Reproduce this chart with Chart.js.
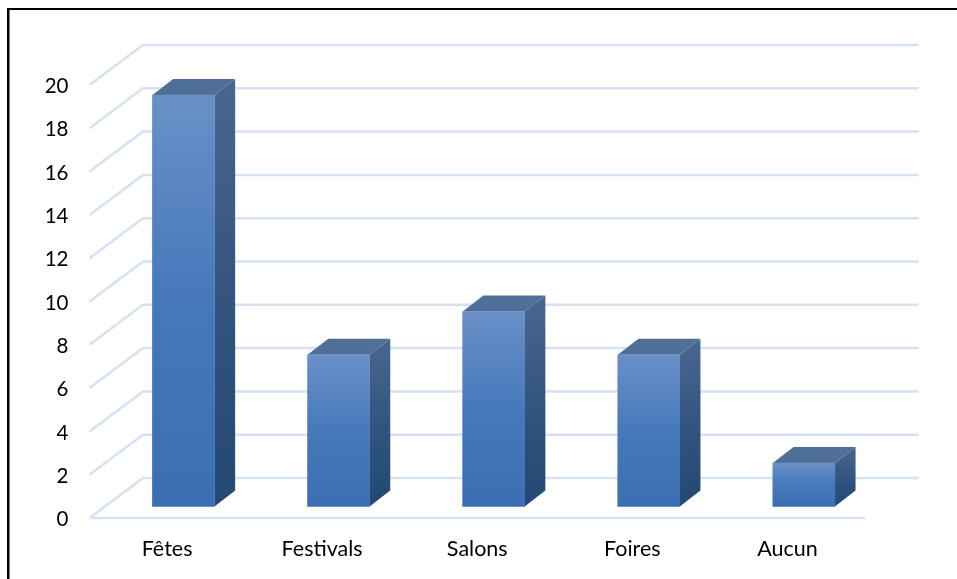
<!DOCTYPE html>
<html><head><meta charset="utf-8">
<style>html,body{margin:0;padding:0;background:#fff;overflow:hidden}canvas{display:block}</style>
<script src="https://cdn.jsdelivr.net/npm/chart.js@4"></script>
</head><body><canvas id="c" width="957" height="579"></canvas>
<script>
const categories = ["Fêtes", "Festivals", "Salons", "Foires", "Aucun"];
const values = [19, 7, 9, 7, 2];
const yTicks = [0, 2, 4, 6, 8, 10, 12, 14, 16, 18, 20];

const WALL_DX = 53.5, WALL_DY = 40;      // back wall offset of the 3D box
const BAR_DX = 16.4, BAR_DY = 11.6;      // bars stand inside the floor
const DEPTH_DX = 20.7, DEPTH_DY = 16;    // bar depth

function vGrad(ctx, top, base, stops) {
  const g = ctx.createLinearGradient(0, top, 0, base);
  stops.forEach(s => g.addColorStop(s[0], s[1]));
  return g;
}

const frame = {
  id: 'frame',
  beforeDraw(chart) {
    const c = chart.ctx;
    c.save();
    c.fillStyle = '#fff'; c.fillRect(0, 0, chart.width, chart.height);
    c.fillStyle = '#000';
    c.fillRect(7, 8, chart.width - 7, 2);
    c.fillRect(7, 8, 2.5, chart.height - 8);
    c.restore();
  }
};

const wall = {
  id: 'wall',
  beforeDatasetsDraw(chart) {
    const c = chart.ctx, s = chart.scales.y, a = chart.chartArea;
    c.save();
    c.strokeStyle = '#d5e2f3';
    c.lineWidth = 2.5;
    c.lineJoin = 'miter';
    s.ticks.forEach(t => {
      const y = s.getPixelForValue(t.value);
      c.beginPath();
      c.moveTo(a.left, y);
      c.lineTo(a.left + WALL_DX, y - WALL_DY);
      c.lineTo(a.right + WALL_DX, y - WALL_DY);
      c.stroke();
      if (t.value === 0) {
        c.beginPath();
        c.moveTo(a.left, y);
        c.lineTo(a.right, y);
        c.stroke();
      }
    });
    c.restore();
  }
};

const extrude = {
  id: 'extrude',
  beforeDatasetDraw(chart, args) {
    const c = chart.ctx;
    c.save();
    c.translate(BAR_DX, -BAR_DY);
    args.meta.data.forEach(b => {
      const p = b.getProps(['x', 'y', 'base', 'width'], true);
      const l = p.x - p.width / 2, r = p.x + p.width / 2;
      c.fillStyle = vGrad(c, p.y - DEPTH_DY, p.base, [[0, '#4a6690'], [0.5, '#33557f'], [1, '#234872']]);
      c.beginPath();
      c.moveTo(r, p.y);
      c.lineTo(r + DEPTH_DX, p.y - DEPTH_DY);
      c.lineTo(r + DEPTH_DX, p.base - DEPTH_DY);
      c.lineTo(r, p.base);
      c.closePath();
      c.fill();
      c.fillStyle = '#506f98';
      c.beginPath();
      c.moveTo(l, p.y);
      c.lineTo(l + DEPTH_DX, p.y - DEPTH_DY);
      c.lineTo(r + DEPTH_DX, p.y - DEPTH_DY);
      c.lineTo(r, p.y);
      c.closePath();
      c.fill();
    });
  },
  afterDatasetDraw(chart) {
    chart.ctx.restore();
  }
};

new Chart(document.getElementById('c'), {
  type: 'bar',
  data: {
    labels: categories,
    datasets: [{
      data: values,
      clip: false,
      barThickness: 62,
      borderWidth: 0,
      backgroundColor(ctx) {
        const sc = ctx.chart.scales.y;
        if (!sc || ctx.raw === undefined) return '#4679bb';
        const top = sc.getPixelForValue(ctx.raw), base = sc.getPixelForValue(0);
        if (!Number.isFinite(top) || !Number.isFinite(base)) return '#4679bb';
        return vGrad(ctx.chart.ctx, top, base,
          [[0, '#6a90c8'], [0.5, '#4679bb'], [1, '#3b6fb1']]);
      }
    }]
  },
  options: {
    responsive: false,
    animation: false,
    devicePixelRatio: 1,
    layout: { padding: { left: 0, right: 92, top: 85, bottom: 0 } },
    plugins: { legend: { display: false }, tooltip: { enabled: false } },
    scales: {
      x: {
        grid: { display: false, drawTicks: false },
        border: { display: false },
        afterFit(s) { s.height = 61; },
        ticks: { padding: 18, color: '#000', maxRotation: 0, font: { family: 'Lato', size: 21.5 } }
      },
      y: {
        min: 0, max: 20,
        afterFit(s) { s.width = 89.5; },
        afterBuildTicks(s) { s.ticks = yTicks.map(v => ({ value: v })); },
        grid: { display: false, drawTicks: false },
        border: { display: false },
        ticks: { padding: 21, labelOffset: 1.5, color: '#000', font: { family: 'Lato', size: 20.5 } }
      }
    }
  },
  plugins: [frame, wall, extrude]
});
</script></body></html>
